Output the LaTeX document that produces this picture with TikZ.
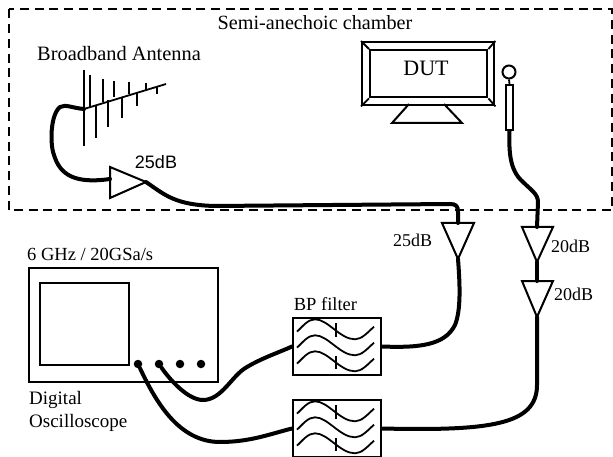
\documentclass[tikz,border=0pt]{standalone}
\usepackage{fontspec}
\setmainfont{Liberation Serif}
\setsansfont{Liberation Sans}
\tikzset{
  x=1pt,y=-1pt,
  lbl/.style={inner sep=0pt,font=\fontsize{18.5}{22}\selectfont},
  lbll/.style={lbl,anchor=west},
  cable/.style={line width=4pt,line cap=round,line join=round},
  thin line/.style={line width=2pt},
  filterbox/.style={draw,line width=2pt,minimum width=88pt,minimum height=57pt,inner sep=0pt,anchor=north west},
  plainbox/.style={draw,line width=2pt,inner sep=0pt,anchor=north west},
  port/.style={circle,fill=black,minimum size=8.5pt,inner sep=0pt},
  wave/.style={line width=1.8pt},
  ant/.style={line width=1.8pt},
}
\newcommand{\filterwaves}[1]{%
  \begin{scope}[shift={(#1.north west)}]
    \clip (0,0) rectangle (88,57);
    \foreach \d in {0,16,32}{
      \draw[wave] (5,{14.7+\d}) .. controls (11,{9+\d}) and (16,{2.3+\d}) .. (23,{2.3+\d})
        .. controls (36,{2.3+\d}) and (48,{22.3+\d}) .. (63,{22.3+\d})
        .. controls (70,{22.3+\d}) and (76,{15+\d}) .. (82,{9.7+\d});
    }
    \draw[wave] (44,6) -- (44,20);
    \draw[wave] (44,39) -- (44,52);
  \end{scope}}
\begin{document}
\begin{tikzpicture}
\useasboundingbox (0,0) rectangle (613,457);
% chamber
\draw[line width=2pt,dash pattern=on 9pt off 5.7pt] (8.5,9.5) rectangle (612,210);
\node[lbl,font=\fontsize{20.2}{24}\selectfont] (chamber) at (315,23) {Semi-anechoic chamber};
\node[lbll,font=\fontsize{20.4}{24}\selectfont] (antlabel) at (37,54) {Broadband Antenna};
% antenna
\coordinate (feed) at (84,109);
\coordinate (boomend) at (166,84);
\draw[ant] (feed) -- (boomend);
\draw[ant] (84,70) -- (84,146);
\foreach \x/\ya/\yb in {90/75/107,96/105/138,103/79/102,108/100/127,114/81/97,122/98/118,129/82/94,137/92/106,146/83/90,157/87/94}
  \draw[ant] (\x,\ya) -- (\x,\yb);
% amplifiers
\coordinate (a1in) at (110,179);
\coordinate (a1out) at (146,182);
\draw[thin line,line join=miter] (110,167) -- (110,198) -- (a1out) -- cycle;
\node[font=\sffamily\fontsize{18}{22}\selectfont,inner sep=0pt] (g1) at (156,162) {25dB};
\coordinate (a2in) at (458,223);
\coordinate (a2out) at (458,259);
\draw[thin line] (442,223) -- (474,223) -- (a2out) -- cycle;
\node[lbl,font=\fontsize{18}{22}\selectfont] (g2) at (412.5,240) {25dB};
\coordinate (a3in) at (537,227);
\coordinate (a3out) at (537,262);
\draw[thin line] (522,227) -- (553,227) -- (a3out) -- cycle;
\node[lbll,font=\fontsize{18}{22}\selectfont] (g3) at (551,246) {20dB};
\coordinate (a4in) at (537,281);
\coordinate (a4out) at (537,317);
\draw[thin line] (522,281) -- (553,281) -- (a4out) -- cycle;
\node[lbll,font=\fontsize{18}{22}\selectfont] (g4) at (554,294) {20dB};
% DUT
\node[plainbox,line width=2.4pt,minimum width=132pt,minimum height=63pt] (mon) at (361,41) {};
\node[plainbox,line width=2.4pt,minimum width=117pt,minimum height=47pt] (screen) at (369,49) {};
\node[lbl,font=\fontsize{22}{26}\selectfont] (dut) at (426,68) {DUT};
\foreach \c in {north west,north east,south west,south east}
  \draw[ant] (mon.\c) -- (screen.\c);
\draw[thin line] (409,104) -- (392,123) -- (462,123) -- (444,104);
% probe
\node[circle,draw,line width=2pt,minimum size=13pt,inner sep=0pt] (loop) at (509,72) {};
\node[plainbox,minimum width=7pt,minimum height=45pt] (probe) at (505,84) {};
\draw[ant] (loop.south) -- (probe.north);
% scope
\node[plainbox,minimum width=189pt,minimum height=114pt] (scope) at (28,267) {};
\node[plainbox,minimum width=89pt,minimum height=82pt] (scr) at (39,282) {};
\node[port] (p1) at (138,364) {};
\node[port] (p2) at (159,364) {};
\node[port] (p3) at (180,364) {};
\node[port] (p4) at (201,364) {};
\node[lbll] (sr) at (27,254) {6 GHz / 20GSa/s};
\node[lbll,font=\fontsize{19}{23}\selectfont] (d1) at (29,400) {Digital};
\node[lbll,font=\fontsize{19}{23}\selectfont] (d2) at (29,423) {Oscilloscope};
% filters
\node[filterbox] (f1) at (292,317) {};
\node[filterbox] (f2) at (292,399) {};
\filterwaves{f1}
\filterwaves{f2}
\node[lbl] (bp) at (325.5,304) {BP filter};
% cables
\draw[cable] (feed) .. controls (72,108) and (66,104) .. (60,107)
  .. controls (50,115) and (50,145) .. (54,155)
  .. controls (60,175) and (75,184) .. (a1in);
\draw[cable] (a1out) .. controls (165,195) and (175,205) .. (215,206)
  -- (450,204) .. controls (456,204) and (458,206) .. (458,212) -- (a2in);
\draw[cable] (probe.south) .. controls (509,150) and (509,170) .. (523,182)
  .. controls (531,190) and (538,194) .. (538,202) -- (a3in);
\draw[cable] (a3out) -- (a4in);
\draw[cable] (a2out) .. controls (460,285) and (461,310) .. (455,325)
  .. controls (445,345) and (420,348) .. (f1.east);
\draw[cable] (a4out) -- (537,385) .. controls (537,425) and (490,431) .. (f2.east);
\draw[cable] (p2) .. controls (170,380) and (188,400) .. (203,400)
  .. controls (222,400) and (232,375) .. (247,367) .. controls (262,358) and (280,352) .. (f1.west);
\draw[cable] (p1) .. controls (155,400) and (178,442) .. (220,442)
  .. controls (250,442) and (270,434) .. (f2.west);
\end{tikzpicture}
\end{document}
